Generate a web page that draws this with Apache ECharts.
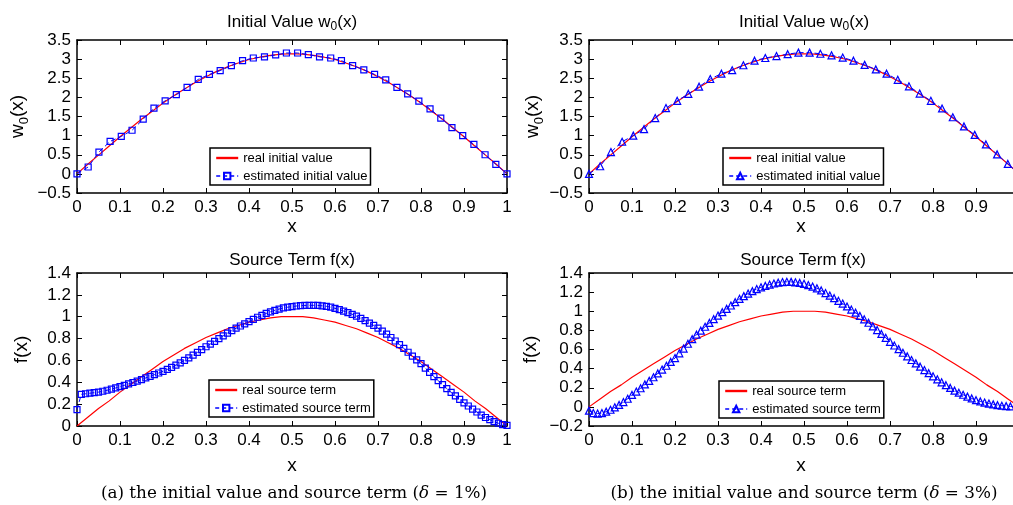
<!DOCTYPE html>
<html><head><meta charset="utf-8">
<script src="https://cdn.jsdelivr.net/npm/echarts@6/dist/echarts.min.js"></script>
<style>html,body{margin:0;padding:0;background:#fff}#c{width:1013px;height:505px}</style>
</head><body><div id="c"></div>
<script>
// ---------- data ----------
const xReal = [0,0.025,0.05,0.075,0.1,0.125,0.15,0.175,0.2,0.225,0.25,0.275,0.3,0.325,0.35,0.375,0.4,0.425,0.45,0.475,0.5,0.525,0.55,0.575,0.6,0.625,0.65,0.675,0.7,0.725,0.75,0.775,0.8,0.825,0.85,0.875,0.9,0.925,0.95,0.975,1];
const realInitial = [0,0.25,0.49,0.73,0.97,1.20,1.43,1.64,1.85,2.04,2.22,2.39,2.54,2.68,2.80,2.90,2.99,3.05,3.10,3.13,3.14,3.13,3.10,3.05,2.99,2.90,2.80,2.68,2.54,2.39,2.22,2.04,1.85,1.64,1.43,1.20,0.97,0.73,0.49,0.25,0];
const realSource = [0,0.08,0.16,0.23,0.31,0.38,0.45,0.52,0.59,0.65,0.71,0.76,0.81,0.85,0.89,0.92,0.95,0.97,0.99,1.00,1.00,1.00,0.99,0.97,0.95,0.92,0.89,0.85,0.81,0.76,0.71,0.65,0.59,0.52,0.45,0.38,0.31,0.23,0.16,0.08,0];

const xEst = [0,0.026,0.051,0.077,0.103,0.128,0.154,0.179,0.205,0.231,0.256,0.282,0.308,0.333,0.359,0.385,0.41,0.436,0.462,0.487,0.513,0.538,0.564,0.59,0.615,0.641,0.667,0.692,0.718,0.744,0.769,0.795,0.821,0.846,0.872,0.897,0.923,0.949,0.974,1];
const estInitialA = [0,0.18,0.57,0.85,0.98,1.14,1.43,1.72,1.91,2.07,2.26,2.47,2.60,2.70,2.83,2.96,3.03,3.06,3.11,3.16,3.16,3.12,3.06,3.03,2.96,2.83,2.72,2.60,2.46,2.26,2.09,1.90,1.70,1.46,1.21,1.00,0.77,0.50,0.25,0];
const estInitialB = [0,0.20,0.57,0.84,1.00,1.17,1.46,1.72,1.91,2.09,2.28,2.48,2.62,2.71,2.84,2.96,3.03,3.08,3.13,3.17,3.17,3.14,3.10,3.04,2.96,2.85,2.73,2.62,2.46,2.29,2.10,1.91,1.71,1.48,1.24,1.02,0.77,0.51,0.26,0];

const xSrc = [0,0.01,0.02,0.03,0.04,0.05,0.06,0.07,0.08,0.09,
0.1,0.11,0.12,0.13,0.14,0.15,0.16,0.17,0.18,0.19,
0.2,0.21,0.22,0.23,0.24,0.25,0.26,0.27,0.28,0.29,
0.3,0.31,0.32,0.33,0.34,0.35,0.36,0.37,0.38,0.39,
0.4,0.41,0.42,0.43,0.44,0.45,0.46,0.47,0.48,0.49,
0.5,0.51,0.52,0.53,0.54,0.55,0.56,0.57,0.58,0.59,
0.6,0.61,0.62,0.63,0.64,0.65,0.66,0.67,0.68,0.69,
0.7,0.71,0.72,0.73,0.74,0.75,0.76,0.77,0.78,0.79,
0.8,0.81,0.82,0.83,0.84,0.85,0.86,0.87,0.88,0.89,
0.9,0.91,0.92,0.93,0.94,0.95,0.96,0.97,0.98,0.99,1];
const estSourceA = [0.15,0.29,0.295,0.30,0.305,0.31,0.318,0.327,0.337,0.348,
0.36,0.372,0.385,0.398,0.411,0.425,0.44,0.455,0.47,0.485,
0.50,0.518,0.537,0.557,0.578,0.60,0.623,0.648,0.673,0.699,
0.725,0.75,0.775,0.80,0.825,0.85,0.873,0.895,0.915,0.935,
0.955,0.975,0.995,1.013,1.03,1.045,1.058,1.07,1.08,1.087,
1.093,1.098,1.101,1.103,1.104,1.104,1.103,1.10,1.095,1.087,
1.077,1.065,1.052,1.038,1.022,1.005,0.985,0.964,0.942,0.92,
0.895,0.868,0.84,0.81,0.778,0.745,0.71,0.675,0.64,0.605,
0.57,0.53,0.49,0.452,0.415,0.378,0.342,0.308,0.275,0.243,
0.212,0.183,0.155,0.128,0.1,0.078,0.058,0.04,0.025,0.013,0.005];
const estSourceB = [-0.04,-0.065,-0.07,-0.065,-0.05,-0.03,-0.005,0.02,0.05,0.085,
0.125,0.16,0.195,0.235,0.272,0.31,0.35,0.39,0.43,0.47,
0.51,0.56,0.61,0.66,0.708,0.755,0.797,0.838,0.878,0.917,
0.955,0.99,1.025,1.06,1.095,1.13,1.158,1.185,1.21,1.232,
1.25,1.265,1.279,1.29,1.299,1.305,1.308,1.307,1.303,1.296,
1.287,1.274,1.258,1.24,1.218,1.19,1.164,1.137,1.109,1.08,
1.05,1.018,0.985,0.951,0.916,0.88,0.842,0.803,0.763,0.722,
0.68,0.642,0.604,0.566,0.528,0.49,0.455,0.42,0.385,0.352,
0.32,0.288,0.257,0.227,0.198,0.17,0.148,0.127,0.107,0.088,
0.07,0.057,0.045,0.035,0.026,0.018,0.012,0.008,0.005,0.003,0.002];

const panelTitles = ['{a|Initial Value w}{s|0}{a|(x)}','{a|Initial Value w}{s|0}{a|(x)}','{a|Source Term f(x)}','{a|Source Term f(x)}'];
const yNames = ['{a|w}{s|0}{a|(x)}','{a|w}{s|0}{a|(x)}','{a|f(x)}','{a|f(x)}'];
const captions = ['(a) the initial value and source term ({i|\u03b4} = 1%)','(b) the initial value and source term ({i|\u03b4} = 3%)'];
const legendReal = ['real initial value','real initial value','real source term','real source term'];
const legendEst = ['estimated initial value','estimated initial value','estimated source term','estimated source term'];

// ---------- layout ----------
const FONT = 'Liberation Sans, Arial, Helvetica, sans-serif';
const SERIF = 'DejaVu Serif, Liberation Serif, serif';
const grids = [
  {left:77, top:40, width:430, height:153},
  {left:589, top:40, width:424, height:153},
  {left:77, top:273, width:430, height:153},
  {left:589, top:273, width:424, height:153}
];
const xMax = [1, 0.986, 1, 0.986];
const yRange = [[-0.5,3.5,0.5],[-0.5,3.5,0.5],[0,1.4,0.2],[-0.2,1.4,0.2]];
const xNameGap = [22, 22, 30, 30];
const yNameGap = [46, 40, 42, 45];
const tag = ['a','b','c','d'];

const zip = (xs, ys) => xs.map((x, i) => [x, ys[i]]);
const xFmt = v => (Math.abs(v*10 - Math.round(v*10)) < 1e-6) ? String(+v.toFixed(1)) : '';
const yFmt = v => String(+v.toFixed(1)).replace('-', '\u2212');

const axisLine = {show:true, onZero:false, lineStyle:{color:'#000', width:1.5}};
const axisTick = {show:true, inside:true, length:5, lineStyle:{color:'#000', width:1}};

const xAxis = [], yAxis = [], series = [], legend = [], title = [];
grids.forEach((g, i) => {
  xAxis.push({
    type:'value', gridIndex:i, position:'bottom', min:0, max:xMax[i], interval:0.1,
    name:'x', nameLocation:'middle', nameGap:xNameGap[i],
    nameTextStyle:{fontSize:19, color:'#000', fontFamily:FONT},
    axisLine, axisTick, splitLine:{show:false},
    axisLabel:{fontSize:17, color:'#000', fontFamily:FONT, margin:6, formatter:xFmt, showMaxLabel: xMax[i] === 1}
  });
  xAxis.push({
    type:'value', gridIndex:i, position:'top', min:0, max:xMax[i], interval:0.1,
    axisLine, axisTick, splitLine:{show:false}, axisLabel:{show:false}
  });
  const r = yRange[i];
  yAxis.push({
    type:'value', gridIndex:i, position:'left', min:r[0], max:r[1], interval:r[2],
    name:yNames[i], nameLocation:'middle', nameGap:yNameGap[i], nameRotate:90,
    nameTextStyle:{color:'#000', fontFamily:FONT, rich:{
      a:{fontSize:19, lineHeight:26, color:'#000', fontFamily:FONT},
      s:{fontSize:13, lineHeight:13, verticalAlign:'bottom', color:'#000', fontFamily:FONT}}},
    axisLine, axisTick, splitLine:{show:false},
    axisLabel:{fontSize:17, color:'#000', fontFamily:FONT, margin:6, formatter:yFmt}
  });
  yAxis.push({
    type:'value', gridIndex:i, position:'right', min:r[0], max:r[1], interval:r[2],
    axisLine:{show: xMax[i] === 1, onZero:false, lineStyle:{color:'#000', width:1.5}},
    axisTick:{show: xMax[i] === 1, inside:true, length:5, lineStyle:{color:'#000', width:1}},
    splitLine:{show:false}, axisLabel:{show:false}
  });

  const isInit = i < 2;
  const realName = legendReal[i] + '#' + tag[i];
  const estName = legendEst[i] + '#' + tag[i];
  series.push({
    type:'line', name:realName, xAxisIndex:2*i, yAxisIndex:2*i,
    data: zip(xReal, isInit ? realInitial : realSource),
    symbol:'none', lineStyle:{color:'#ff0000', width:1.2},
    itemStyle:{color:'rgba(255,0,0,0)', borderWidth:0},
    animation:false, z:2
  });
  const estData = [estInitialA, estInitialB, estSourceA, estSourceB][i];
  series.push({
    type:'line', name:estName, xAxisIndex:2*i, yAxisIndex:2*i,
    data: zip(isInit ? xEst : xSrc, estData),
    symbol: (i % 2 === 0) ? 'rect' : 'triangle',
    symbolSize: (i % 2 === 0) ? 6 : 7,
    showAllSymbol:true,
    lineStyle:{color:'#0000ff', width:1, type:[5,3]},
    itemStyle:{color:'rgba(255,255,255,0)', borderColor:'#0000ff', borderWidth:1.2},
    animation:false, z:3
  });

  const legPos = [[210,148],[723,148],[209,380],[719,381]][i];
  legend.push({
    data:[
      {name:realName, itemStyle:{opacity:0}, lineStyle:{color:'#ff0000', width:2.4}},
      {name:estName, lineStyle:{color:'#0000ff', width:1.5, type:[4,3]}}
    ],
    orient:'vertical', left:legPos[0], top:legPos[1],
    formatter: n => n.split('#')[0],
    itemWidth:22, itemHeight:8, itemGap:2, padding:[2,3,1,5],
    backgroundColor:'#fff', borderColor:'#000', borderWidth:1.5, borderRadius:0,
    selectedMode:false,
    textStyle:{fontSize:13, color:'#000', fontFamily:FONT, lineHeight:16}
  });

  title.push({
    text: panelTitles[i], left: [292, 804, 292, 803][i], top: [22, 22, 260, 260][i],
    textAlign:'center', textVerticalAlign:'middle', padding:0,
    textStyle:{fontWeight:'normal', fontFamily:FONT, color:'#000', rich:{
      a:{fontSize:17, lineHeight:22, color:'#000', fontFamily:FONT},
      s:{fontSize:12, lineHeight:12, verticalAlign:'bottom', color:'#000', fontFamily:FONT}}}
  });
});

const graphic = captions.map((c, k) => ({
  type:'text', x:[294, 804][k], y:494, silent:true,
  style:{text:c, align:'center', verticalAlign:'middle', fill:'#000',
    fontSize:16.8, fontFamily:SERIF,
    rich:{i:{fontStyle:'italic', fontSize:16.8, fontFamily:SERIF, fill:'#000'}}}
}));

const chart = echarts.init(document.getElementById('c'), null, {renderer:'canvas'});
chart.setOption({
  animation:false, backgroundColor:'#fff',
  grid: grids, xAxis, yAxis, series, legend, title, graphic
});
</script>
</body></html>
